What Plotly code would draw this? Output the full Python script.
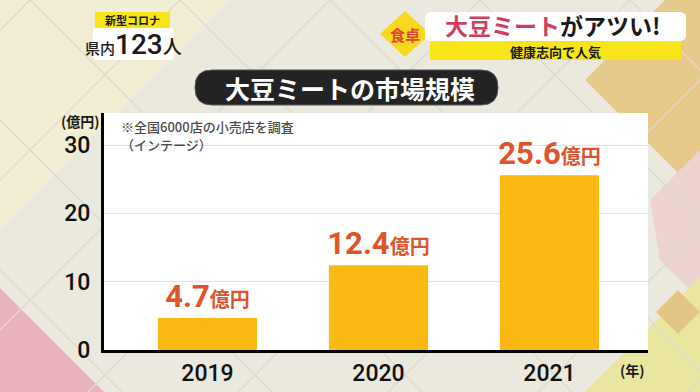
import plotly.graph_objects as go

# ---------------- data ----------------
years = ["2019", "2020", "2021"]
values = [4.7, 12.4, 25.6]
y_ticks = [0, 10, 20, 30]
unit = "億円"
title_text = "大豆ミートの市場規模"
note_lines = ["※全国6000店の小売店を調査", "（インテージ）"]
y_unit_label = "(億円)"
x_unit_label = "(年)"

W, H = 700, 392
ML, MR, MT, MB = 104, 52, 113, 42
PW, PH = W - ML - MR, H - MT - MB
JP = "Noto Sans CJK JP"


def px(x, y):
    # pixel position in the page -> plotly paper coordinates
    return (x - ML) / PW, (H - MB - y) / PH


def poly(points):
    parts = []
    for i, (x, y) in enumerate(points):
        a, b = px(x, y)
        parts.append(("M" if i == 0 else "L") + f"{a:.5f},{b:.5f}")
    return " ".join(parts) + " Z"


def rrect(x0, y0, x1, y1, r):
    def p(x, y):
        a, b = px(x, y)
        return f"{a:.5f},{b:.5f}"
    return (f"M{p(x0 + r, y0)} L{p(x1 - r, y0)} Q{p(x1, y0)} {p(x1, y0 + r)} "
            f"L{p(x1, y1 - r)} Q{p(x1, y1)} {p(x1 - r, y1)} L{p(x0 + r, y1)} "
            f"Q{p(x0, y1)} {p(x0, y1 - r)} L{p(x0, y0 + r)} Q{p(x0, y0)} {p(x0 + r, y0)} Z")


shapes = []


def add_path(path, fill, line_color=None, line_width=0, layer="below"):
    shapes.append(dict(type="path", xref="paper", yref="paper", path=path,
                       fillcolor=fill, line=dict(color=line_color or fill, width=line_width),
                       layer=layer))


# background decorations
add_path(poly([(0, 0), (230, 0), (0, 230)]), "#f1eed3")
add_path(poly([(0, 288), (104, 392), (0, 392)]), "#e8b3bc")
add_path(poly([(585, 80), (665, 0), (700, 0), (700, 195), (650, 145)]), "#e8c98c")
add_path(poly([(650, 200), (700, 150), (700, 300), (660, 260)]), "#ecd3cf")
add_path(poly([(585, 392), (700, 277), (700, 392)]), "#eae6a2")
add_path(poly([(678, 290), (700, 312), (678, 334), (656, 312)]), "#e3c585")

# lattice lines
for c in range(-420, 1120, 150):
    for (xa, ya, xb, yb) in [(c, 0, c + 392, 392), (c, 0, c - 392, 392)]:
        a0, b0 = px(xa, ya)
        a1, b1 = px(xb, yb)
        shapes.append(dict(type="line", xref="paper", yref="paper", x0=a0, y0=b0,
                           x1=a1, y1=b1, line=dict(color="#dedace", width=1.5),
                           layer="below"))

# white plot panel
shapes.append(dict(type="rect", xref="x domain", yref="y domain", x0=0, x1=1, y0=0, y1=1,
                   fillcolor="white", line=dict(width=0), layer="below"))

# title pill
add_path(rrect(195, 70, 498, 105, 17), "#232323", "#555555", 1)

# top-left badge
add_path(poly([(95, 12), (170, 12), (170, 28), (95, 28)]), "#f7e51a")
add_path(rrect(93, 28, 174, 60, 4), "#ffffff")

# top-right header
add_path(poly([(405, 11), (430, 34), (405, 57), (380, 34)]), "#f8d81c")
add_path(rrect(425, 12, 686, 41, 6), "#ffffff")
add_path(poly([(430, 41), (681, 41), (681, 60), (430, 60)]), "#f7e51a")

annotations = []


def ann(text, x, y, size, color="#1a1a1a", xanchor="center", yanchor="middle",
        family=JP, weight="bold", align="center"):
    a, b = px(x, y)
    annotations.append(dict(text=text, x=a, y=b, xref="paper", yref="paper",
                            xanchor=xanchor, yanchor=yanchor, showarrow=False, align=align,
                            font=dict(size=size, color=color, family=family, weight=weight)))


ann(title_text, 350, 88, 25, color="white")
ann(y_unit_label, 80, 121, 14)
ann(note_lines[0], 119, 127, 13, color="#4a4a4a", xanchor="left", weight=500)
ann(note_lines[1], 119, 144, 13, color="#4a4a4a", xanchor="left", weight=500)
ann(x_unit_label, 632, 370, 14)

ann("新型コロナ", 132, 20, 11)
ann("県内<span style='font-size:28px'>123</span><span style='font-size:19px'>人</span>",
    133, 44, 15, family="Roboto, " + JP, weight=500)
ann("食卓", 405, 34, 15, color="#e0463c")
ann("<span style='color:#cf3f5c'>大豆ミート</span>がアツい!", 553, 25, 23)
ann("健康志向で人気", 555, 51, 13)

labels = [f"{v}<span style='font-size:20px'>{unit}</span>" for v in values]

fig = go.Figure(go.Bar(
    x=years, y=values, width=0.58,
    marker=dict(color="#fdb913", line=dict(width=0)),
    text=labels, textposition="outside", constraintext="none", cliponaxis=False,
    textfont=dict(size=31, color="#e0532b", family="Roboto, " + JP, weight="bold"),
    hoverinfo="skip",
))

fig.update_layout(
    width=W, height=H,
    margin=dict(l=ML, r=MR, t=MT, b=MB, autoexpand=False),
    paper_bgcolor="#ebe8de",
    plot_bgcolor="rgba(0,0,0,0)",
    showlegend=False,
    shapes=shapes,
    annotations=annotations,
)
fig.update_xaxes(
    type="category", range=[-0.605, 2.576], automargin=False,
    showline=True, linecolor="black", linewidth=3,
    ticks="", ticklen=0,
    tickfont=dict(size=23, color="#111111", family="Roboto", weight=500),
    showgrid=False, fixedrange=True,
)
fig.update_yaxes(
    range=[0, 34.7], tickvals=y_ticks, automargin=False,
    showline=True, linecolor="black", linewidth=3,
    ticks="outside", ticklen=6, tickcolor="rgba(0,0,0,0)",
    tickfont=dict(size=23, color="#111111", family="Roboto", weight=500),
    showgrid=True, gridcolor="#e3e3e3", gridwidth=1, zeroline=False, fixedrange=True,
)

page_css = ("var s='margin:0;padding:0;overflow:hidden;width:700px;height:392px';"
            "document.documentElement.style.cssText=s;document.body.style.cssText=s;")
fig.write_html("out.html", config={"displayModeBar": False}, post_script=page_css)
